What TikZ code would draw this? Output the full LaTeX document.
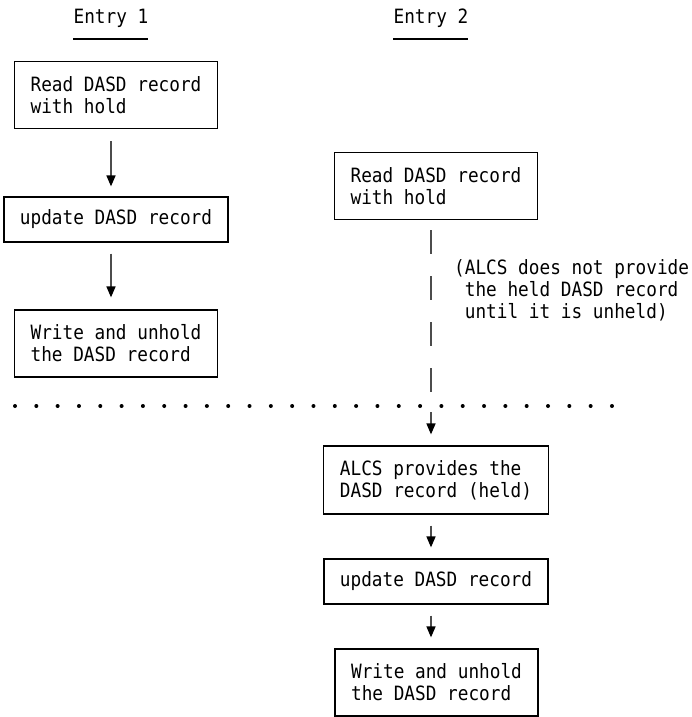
\documentclass[tikz,border=0pt]{standalone}
\usepackage{fontspec}
\setmonofont[FakeStretch=0.9]{DejaVu Sans Mono}
\usetikzlibrary{arrows.meta}
\tikzset{
  every node/.style={font=\ttfamily\fontsize{19.7pt}{22pt}\selectfont},
  stepbox/.style={draw=black, line width=1.2pt, align=left, inner sep=0pt,
    minimum height=#1},
  narrowbox/.style={stepbox=67pt, minimum width=203pt},
  widebox/.style={stepbox=45pt, minimum width=224pt},
  widebox2/.style={stepbox=68pt, minimum width=225pt},
  flowarrow/.style={draw=black!70, line width=1.6pt,
    -{Triangle[width=9pt,length=11pt,fill=black,color=black]}},
  dashline/.style={draw=black!70, line width=1.6pt, dash pattern=on 24pt off 22pt},
  uline/.style={line width=1.2pt},
}
\begin{document}
\begin{tikzpicture}[x=1pt,y=-1pt]
\useasboundingbox (0,0) rectangle (692,717);

% headings
\node (e1) at (111,18) {Entry 1};
\node (e2) at (431,18) {Entry 2};
\draw[uline] (73,39) -- (148,39);
\draw[uline] (393,39) -- (468,39);

% left column
\node[narrowbox] (l1) at (116,95) {Read DASD record\\with hold};
\node[widebox] (l2) at (116,219.5) {update DASD record};
\node[narrowbox] (l3) at (116,343.5) {Write and unhold\\the DASD record};

\draw[flowarrow, shorten <=12pt, shorten >=10pt]
  ([xshift=-5pt]l1.south) -- ([xshift=-5pt]l2.north);
\draw[flowarrow, shorten <=11pt, shorten >=12pt]
  ([xshift=-5pt]l2.south) -- ([xshift=-5pt]l3.north);

% right column
\node[narrowbox] (r1) at (436,186) {Read DASD record\\with hold};
\node[widebox2] (r2) at (436,480) {ALCS provides the\\DASD record (held)};
\node[widebox] (r3) at (436,581.5) {update DASD record};
\node[narrowbox] (r4) at (436.5,682.5) {Write and unhold\\the DASD record};

\coordinate (brk) at (431,401);
\draw[dashline, shorten <=10pt] ([xshift=-5pt]r1.south) -- (brk);
\draw[flowarrow, shorten <=11pt, shorten >=11pt] (brk) -- ([xshift=-5pt]r2.north);
\draw[flowarrow, shorten <=11pt, shorten >=11pt]
  ([xshift=-5pt]r2.south) -- ([xshift=-5pt]r3.north);
\draw[flowarrow, shorten <=11pt, shorten >=11pt]
  ([xshift=-5pt]r3.south) -- ([xshift=-5.5pt]r4.north);

% note
\node[anchor=west, align=left, inner sep=0pt] (note) at (454,290)
  {(ALCS does not provide\\\phantom{(}the held DASD record\\\phantom{(}until it is unheld)};

% dotted separator
\foreach \k in {0,...,28} \fill (15+21.32*\k,406) circle (2pt);
\end{tikzpicture}
\end{document}
